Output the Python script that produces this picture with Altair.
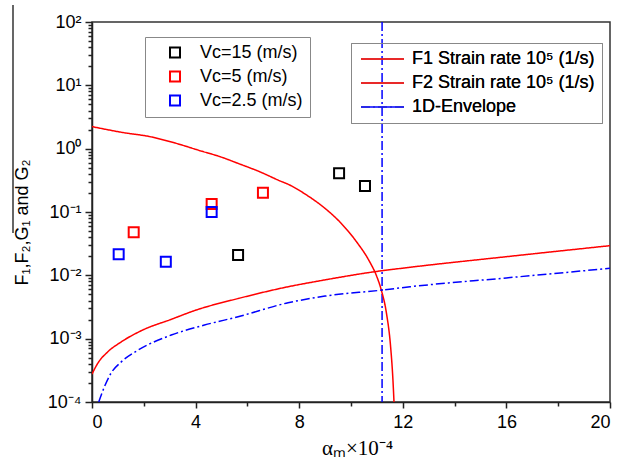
import altair as alt
import pandas as pd

# ---------------- data ----------------
vc_labels = ["Vc=15 (m/s)", "Vc=5 (m/s)", "Vc=2.5 (m/s)"]
vc15_x = [5.64, 9.54, 10.54]
vc15_y = [0.0209, 0.408, 0.257]
vc5_x = [1.61, 4.62, 6.60]
vc5_y = [0.0478, 0.134, 0.202]
vc25_x = [1.03, 2.85, 4.62]
vc25_y = [0.0215, 0.0164, 0.100]

line_labels = ["F1 Strain rate 10\u2075 (1/s)", "F2 Strain rate 10\u2075 (1/s)", "1D-Envelope"]
f1_x = [0, 1.19, 2.23, 3.2, 4.17, 4.94, 5.70, 6.47, 7.24, 7.63, 8.28, 8.92, 9.56,
        10.21, 10.72, 11.0, 11.17, 11.37, 11.53, 11.62, 11.66]
f1_y = [2.23, 1.8, 1.55, 1.23, 0.93, 0.748, 0.573, 0.433, 0.312, 0.267, 0.186, 0.121, 0.0703,
        0.034, 0.0164, 0.0095, 0.00586, 0.00251, 7.4e-4, 2.2e-4, 1.0e-4]
f2_x = [0, 0.22, 0.61, 1.13, 1.96, 3.06, 4.02, 5.64, 7.57, 8.8, 10.91, 12.28, 16, 20]
f2_y = [2.76e-4, 4.07e-4, 6.2e-4, 8.9e-4, 1.37e-3, 2.02e-3, 2.83e-3, 4.3e-3, 6.6e-3,
        8.2e-3, 0.0114, 0.0134, 0.0197, 0.0294]
env_x = [0.26, 0.48, 0.73, 1.13, 1.78, 3.06, 4.34, 5.64, 7.57, 9.0, 11.12, 12.28, 16, 20]
env_y = [1.0e-4, 1.74e-4, 2.83e-4, 4.3e-4, 6.6e-4, 1.14e-3, 1.64e-3, 2.22e-3, 3.69e-3,
         4.7e-3, 5.8e-3, 6.6e-3, 9.1e-3, 0.0129]
env_vertical_x = [11.2]

x_ticks = [0, 2, 4, 6, 8, 10, 12, 14, 16, 18, 20]
y_decades = [1e-4, 1e-3, 1e-2, 1e-1, 1e0, 1e1, 1e2]
y_ticks = [m * d for d in y_decades[:-1] for m in range(1, 10)] + [y_decades[-1]]
y_tick_labels = ["10\u207b\u2074", "10\u207b\u00b3", "10\u207b\u00b2", "10\u207b\u00b9",
                 "10\u2070", "10\u00b9", "10\u00b2"]

# ---------------- tables ----------------
pts = pd.DataFrame({
    "x": vc15_x + vc5_x + vc25_x,
    "y": vc15_y + vc5_y + vc25_y,
    "series": [vc_labels[0]] * 3 + [vc_labels[1]] * 3 + [vc_labels[2]] * 3,
})
lines_df = pd.DataFrame({
    "x": f1_x + f2_x + env_x,
    "y": f1_y + f2_y + env_y,
    "series": [line_labels[0]] * len(f1_x) + [line_labels[1]] * len(f2_x)
              + [line_labels[2]] * len(env_x),
})
vline_df = pd.DataFrame({"x": env_vertical_x})

FONT = "Liberation Sans"
xscale = alt.Scale(domain=[0, 20], nice=False, zero=False)
yscale = alt.Scale(type="log", domain=[1e-4, 1e2], nice=False)

decade_test = "abs(log(datum.value)/LN10 - round(log(datum.value)/LN10)) < 0.001"
label_arr = "[" + ",".join("'" + s + "'" for s in y_tick_labels) + "]"

xaxis = alt.Axis(
    values=x_ticks,
    labelExpr="datum.value % 4 == 0 ? datum.label : ''",
    tickSize={"condition": {"test": "datum.value % 4 == 0", "value": 6}, "value": 4},
    title="\u03b1\u2098\u00d710\u207b\u2074",
    titleFont="Liberation Serif", titleFontSize=21, titleFontWeight="normal",
    titleX=265, titleY=46, titleBaseline="middle", titleAlign="center",
    labelPadding=5, grid=False, labelOverlap=False,
)
yaxis = alt.Axis(
    values=y_ticks,
    labelExpr=decade_test + " ? " + label_arr + "[round(log(datum.value)/LN10)+4] : ''",
    tickSize={"condition": {"test": decade_test, "value": 7}, "value": 4},
    title="F\u2081,F\u2082,G\u2081 and G\u2082",
    titleFont=FONT, titleFontSize=18, titleFontWeight="normal",
    titleAngle=270, titleX=-70, titleY=200, titleAlign="center", titleBaseline="middle",
    labelPadding=4, grid=False, labelOverlap=False,
)

vline = alt.Chart(vline_df).mark_rule(
    color="#0000ff", strokeWidth=1.5, strokeDash=[9, 3, 2, 3]
).encode(x=alt.X("x:Q", scale=xscale, axis=xaxis))

line_legend = alt.Legend(
    title=None, orient="none", legendX=259, legendY=21, padding=7,
    symbolOffset=2, symbolType="stroke", symbolSize=1849, symbolStrokeWidth=1.5,
    labelOffset=7, rowPadding=6, clipHeight=18, strokeColor="#888", labelLimit=400,
    labelFont=FONT, labelFontSize=18, labelColor="black",
)
lines = alt.Chart(lines_df).mark_line(
    strokeWidth=1.5, interpolate="monotone", clip=True
).encode(
    x=alt.X("x:Q", scale=xscale, axis=xaxis),
    y=alt.Y("y:Q", scale=yscale, axis=yaxis),
    color=alt.Color("series:N", scale=alt.Scale(domain=line_labels,
                    range=["#ff0000", "#ff0000", "#0000ff"]), legend=line_legend),
    strokeDash=alt.StrokeDash("series:N", scale=alt.Scale(domain=line_labels,
                    range=[[1, 0], [1, 0], [9, 3, 2, 3]]), legend=line_legend),
)

points = alt.Chart(pts).mark_point(
    shape="square", filled=False, size=100, strokeWidth=2, opacity=1, clip=True
).encode(
    x=alt.X("x:Q", scale=xscale, axis=xaxis),
    y=alt.Y("y:Q", scale=yscale, axis=yaxis),
    color=alt.Color("series:N", scale=alt.Scale(domain=vc_labels,
                    range=["#000000", "#ff0000", "#0000ff"]),
                    legend=alt.Legend(
                        title=None, orient="none", legendX=53, legendY=15, padding=7,
                        symbolOffset=14, symbolType="square", symbolSize=100,
                        symbolStrokeWidth=2, symbolOpacity=1, symbolFillColor="transparent",
                        labelOffset=16, rowPadding=5, clipHeight=17, strokeColor="#888",
                        labelLimit=400,
                        labelFont=FONT, labelFontSize=18, labelColor="black",
                    )),
)

overline = alt.Chart(pd.DataFrame({"a": [0]})).mark_rule(
    color="black", strokeWidth=1.2
).encode(x=alt.value(-79), y=alt.value(-17), y2=alt.value(211))

chart = alt.layer(vline, lines, points, overline).resolve_scale(
    color="independent"
).properties(
    width=518, height=380,
    padding={"left": 92, "top": 22, "right": 12, "bottom": 58},
    autosize=alt.AutoSizeParams(type="none"),
    background="white",
).configure_view(
    stroke="#333", strokeWidth=1.5
).configure_axis(
    domainColor="#222", domainWidth=1.5, tickColor="#222", tickWidth=1.5,
    labelFont=FONT, labelFontSize=18, labelColor="black", titleColor="black",
)

chart.save("out.html", embed_options={"renderer": "svg", "actions": False})
